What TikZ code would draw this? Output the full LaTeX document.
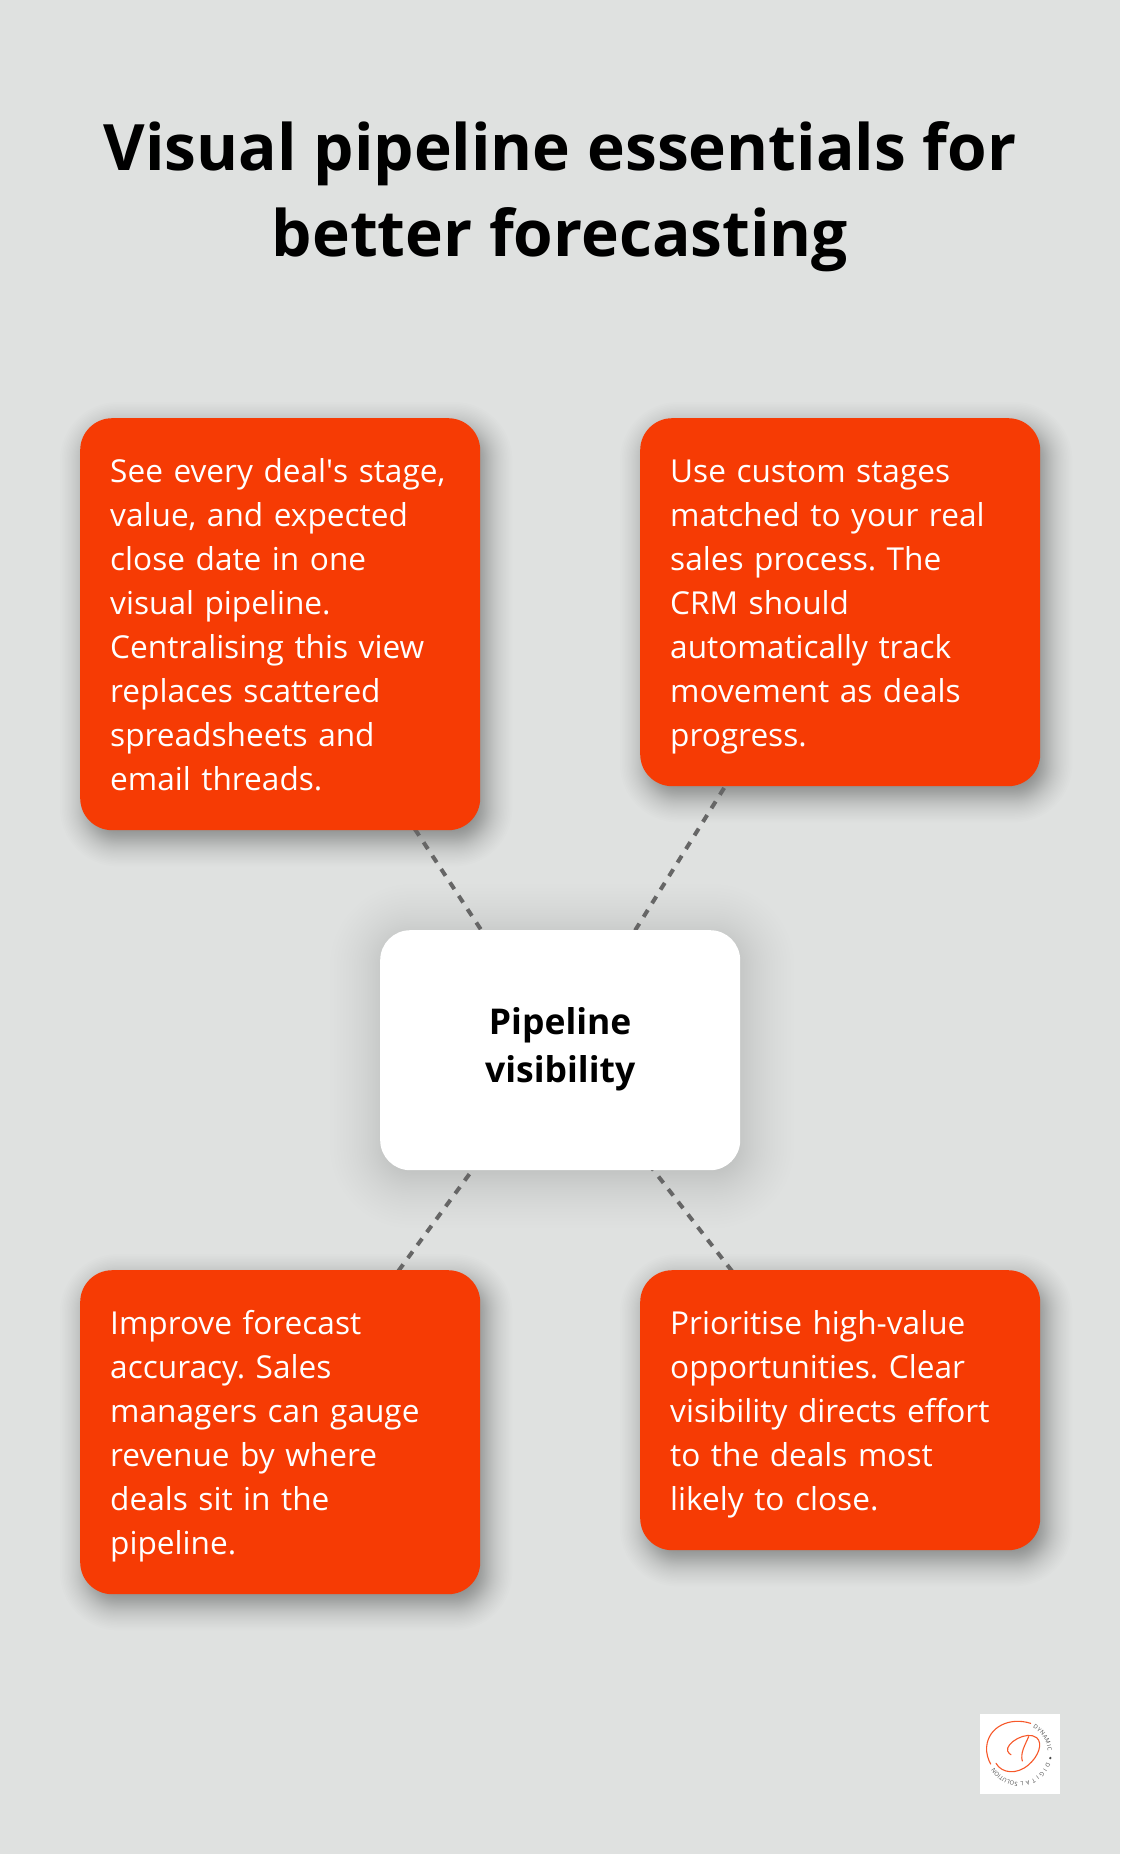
\documentclass[tikz,border=0pt]{standalone}
\usepackage{fontspec}
\setmainfont{Open Sans}
\usetikzlibrary{calc,decorations.text}
\pgfdeclarelayer{shadowlayer}
\pgfdeclarelayer{linklayer}
\pgfsetlayers{shadowlayer,linklayer,main}
\definecolor{pagebg}{HTML}{DFE1E0}
\definecolor{cardorange}{HTML}{F63B04}
\definecolor{linkgrey}{HTML}{666666}
\newcommand{\cardstrut}{\rule{0pt}{33.8pt}\rule[-10.2pt]{0pt}{10.2pt}}
\newcommand{\hubstrut}{\rule{0pt}{50pt}\rule[-10pt]{0pt}{10pt}}
\newcommand{\headstrut}{\rule{0pt}{66pt}\rule[-20pt]{0pt}{20pt}}
\tikzset{
  card/.style={rectangle,rounded corners=32pt,fill=cardorange,text=white,anchor=north west,
    text width=340pt,minimum width=400pt,inner xsep=30pt,inner ysep=0pt,align=left,
    font=\frenchspacing\fontsize{31.6pt}{44pt}\selectfont,
    execute at begin node=\cardstrut,execute at end node=\cardstrut},
  hub/.style={rectangle,rounded corners=30pt,fill=white,text=black,anchor=north west,
    minimum width=360pt,minimum height=240pt,inner sep=0pt,align=center,
    font=\fontsize{35.5pt}{48pt}\selectfont\bfseries,
    execute at begin node=\hubstrut,execute at end node=\hubstrut},
  heading/.style={text=black,align=center,inner sep=0pt,font=\fontsize{64pt}{86pt}\selectfont\bfseries,
    execute at begin node=\headstrut,execute at end node=\headstrut},
  link/.style={draw=linkgrey,line width=4pt},
  logopen/.style={draw=cardorange!85!white,line width=1.1pt,line cap=round,fill=none},
}
% soft shadow: node, x offset, y offset, blur, corner radius, opacity of each step
\newcommand{\softshadow}[6]{%
  \begin{pgfonlayer}{shadowlayer}
  \foreach \s in {-24,-23,...,24}{%
    \pgfmathsetmacro{\ss}{#4*(0.65*(\s/24)+0.35*(\s/24)*(\s/24)*(\s/24))}%
    \pgfmathsetmacro{\rr}{max(#5+\ss,1)}%
    \fill[black,fill opacity=#6,rounded corners=\rr pt]
      ($(#1.north west)+(#2-\ss,#3-\ss)$) rectangle ($(#1.south east)+(#2+\ss,#3+\ss)$);
  }
  \end{pgfonlayer}}
\newcommand{\logoword}[3]{%
  \path[decorate,decoration={text along path,text align={fit to path},
    text={|\fontsize{5.8pt}{7pt}\selectfont\color{black!70}|#3}}]
    ($(178,190)+(#1:86)$) arc[start angle=#1,end angle=#2,radius=86];}
\begin{document}
\begin{tikzpicture}[x=1pt,y=-1pt]
\useasboundingbox (0,0) rectangle (1120,1854);
\begin{pgfonlayer}{shadowlayer}
\fill[pagebg] (0,0) rectangle (1120,1854);
\end{pgfonlayer}

\node[heading] (title) at (560,199.5) {Visual pipeline essentials for\\better forecasting};

\node[card,minimum height=412pt] (tl) at (80,418) {See every deal\textquotesingle s stage,\\value, and expected\\close date in one\\visual pipeline.\\Centralising this view\\replaces scattered\\spreadsheets and\\email threads.};
\node[card,minimum height=368pt] (tr) at (640,418) {Use custom stages\\matched to your real\\sales process. The\\CRM should\\automatically track\\movement as deals\\progress.};
\node[card,minimum height=324pt] (bl) at (80,1270) {Improve forecast\\accuracy. Sales\\managers can gauge\\revenue by where\\deals sit in the\\pipeline.};
\node[card,minimum height=280pt] (br) at (640,1270) {Prioritise high-value\\opportunities. Clear\\visibility directs effort\\to the deals most\\likely to close.};
\node[hub] (hub) at (380,930) {Pipeline\\visibility};

\softshadow{tl}{6}{10}{26}{32}{0.0085}
\softshadow{tr}{6}{10}{26}{32}{0.0085}
\softshadow{bl}{6}{10}{26}{32}{0.0085}
\softshadow{br}{6}{10}{26}{32}{0.0085}
\softshadow{hub}{2}{6}{52}{30}{0.0055}

\begin{pgfonlayer}{linklayer}
\draw[link,dash pattern=on 8pt off 8pt,dash phase=11pt] (tl.center) -- (hub.center);
\draw[link,dash pattern=on 8pt off 8pt,dash phase=5pt] (tr.center) -- (hub.center);
\draw[link,dash pattern=on 8pt off 8pt,dash phase=8pt] (bl.center) -- (hub.center);
\draw[link,dash pattern=on 8pt off 8pt] (br.center) -- (hub.center);
\end{pgfonlayer}

% logo
\node[fill=white,minimum width=80pt,minimum height=80pt,inner sep=0pt,anchor=north west] (logo) at (980,1714) {};
\begin{scope}[shift={(960,1690)},x=0.3333pt,y=-0.3333pt]
\draw[logopen] (212,100) .. controls (150,80) and (85,110) .. (80,170) .. controls (78,190) and (85,210) .. (92,222);
\draw[logopen] (108,220) .. controls (125,250) and (170,255) .. (205,225) .. controls (235,200) and (250,160) .. (230,143) .. controls (200,120) and (135,160) .. (143,183) .. controls (145,190) and (150,192) .. (153,194);
\draw[logopen] (206,140) .. controls (195,165) and (180,190) .. (187,213);
\logoword{-62}{-5}{DYNAMIC}
\logoword{18}{88}{DIGITAL}
\logoword{93}{152}{SOLUTIONS}
\fill[black!70] (271,204) circle (4);
\end{scope}
\end{tikzpicture}
\end{document}
